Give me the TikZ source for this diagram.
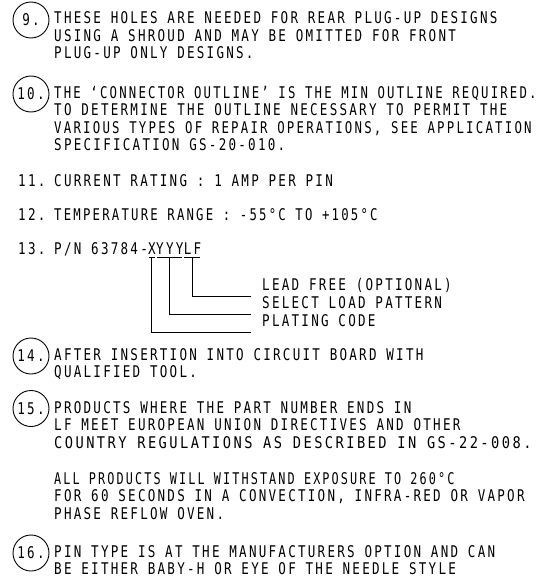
\documentclass[tikz,border=0pt]{standalone}
\usepackage{fontspec}
\usepackage{graphicx}
\usetikzlibrary{calc}
\newfontfamily\cad{DejaVu Sans Mono}[FakeStretch=0.78,LetterSpace=14]
\newcommand{\sx}[2]{\scalebox{#1}[1]{#2}}
\begin{document}
\begin{tikzpicture}[x=1pt,y=-1pt,
  txt/.style={anchor=base west,inner sep=0pt,font=\cad\fontsize{16.1}{17}\selectfont},
  num/.style={circle,draw,line width=0.9pt,minimum size=36pt,inner sep=0pt,font=\cad\fontsize{16.1}{17}\selectfont},
  lead/.style={line width=0.9pt}]
\useasboundingbox (0,0) rectangle (547,586);
% 9
\node[num] (c9) at (31,20) {9.};
\node[txt] (t9a) at (54,24) {THESE HOLES ARE NEEDED FOR REAR PLUG-UP DESIGNS};
\node[txt] (t9b) at (54,41.5) {USING A SHROUD AND MAY BE OMITTED FOR FRONT};
\node[txt] (t9c) at (54,59) {PLUG-UP ONLY DESIGNS.};
% 10
\node[num] (c10) at (31,94) {10.};
\node[txt] (t10a) at (54,98) {\sx{0.98}{THE ‘CONNECTOR OUTLINE’ IS THE MIN OUTLINE REQUIRED.}};
\node[txt] (t10b) at (54,115.5) {TO DETERMINE THE OUTLINE NECESSARY TO PERMIT THE};
\node[txt] (t10c) at (54,133) {\sx{0.985}{VARIOUS TYPES OF REPAIR OPERATIONS, SEE APPLICATION}};
\node[txt] (t10d) at (54,150.5) {SPECIFICATION GS-20-010.};
% 11
\node[txt] (n11) at (18,186) {11.};
\node[txt] (t11) at (54,186) {CURRENT RATING : 1 AMP PER PIN};
% 12
\node[txt] (n12) at (18,220) {12.};
\node[txt] (t12) at (54,220) {\sx{0.98}{TEMPERATURE RANGE : -55°C TO +105°C}};
% 13
\node[txt] (n13) at (18,254) {13.};
\node[txt] (pn) at (54,254) {P/N 63784-};
\node[txt] (px) at (pn.base east) {X};
\node[txt] (py) at (px.base east) {YYY};
\node[txt] (plf) at (py.base east) {LF};
\coordinate (ux1) at ([xshift=0.8pt,yshift=-3pt]px.base west);
\coordinate (ux2) at ([xshift=-1.5pt,yshift=-3pt]px.base east);
\coordinate (uy1) at ([xshift=0.8pt,yshift=-3pt]py.base west);
\coordinate (uy2) at ([xshift=-1.5pt,yshift=-3pt]py.base east);
\coordinate (ul1) at ([xshift=0.8pt,yshift=-3pt]plf.base west);
\coordinate (ul2) at ([xshift=-1.5pt,yshift=-3pt]plf.base east);
\draw[lead] (ux1) -- (ux2);
\draw[lead] (uy1) -- (uy2);
\draw[lead] (ul1) -- (ul2);
\node[txt] (lf) at (262,290) {LEAD FREE (OPTIONAL)};
\node[txt] (sl) at (262,308) {SELECT LOAD PATTERN};
\node[txt] (pc) at (262,326) {PLATING CODE};
\draw[lead] ($(ul1)!0.5!(ul2)$) |- ([xshift=-11pt,yshift=-6pt]lf.base west);
\draw[lead] ($(uy1)!0.5!(uy2)$) |- ([xshift=-11pt,yshift=-6pt]sl.base west);
\draw[lead] ($(ux1)!0.5!(ux2)$) |- ([xshift=-11pt,yshift=-6pt]pc.base west);
% 14
\node[num] (c14) at (31,356) {14.};
\node[txt] (t14a) at (54,360) {AFTER INSERTION INTO CIRCUIT BOARD WITH};
\node[txt] (t14b) at (54,377.5) {QUALIFIED TOOL.};
% 15
\node[num] (c15) at (31,408.5) {15.};
\node[txt] (t15a) at (54,413) {PRODUCTS WHERE THE PART NUMBER ENDS IN};
\node[txt] (t15b) at (54,430.5) {LF MEET EUROPEAN UNION DIRECTIVES AND OTHER};
\node[txt] (t15c) at (54,448) {\sx{1.09}{COUNTRY REGULATIONS AS DESCRIBED IN GS-22-008.}};
\node[txt] (t15d) at (54,484) {\sx{0.94}{ALL PRODUCTS WILL WITHSTAND EXPOSURE TO 260°C}};
\node[txt] (t15e) at (54,501.5) {FOR 60 SECONDS IN A CONVECTION, INFRA-RED OR VAPOR};
\node[txt] (t15f) at (54,519) {PHASE REFLOW OVEN.};
% 16
\node[num] (c16) at (31,553) {16.};
\node[txt] (t16a) at (54,557) {PIN TYPE IS AT THE MANUFACTURERS OPTION AND CAN};
\node[txt] (t16b) at (54,574.5) {BE EITHER BABY-H OR EYE OF THE NEEDLE STYLE};
\end{tikzpicture}
\end{document}
